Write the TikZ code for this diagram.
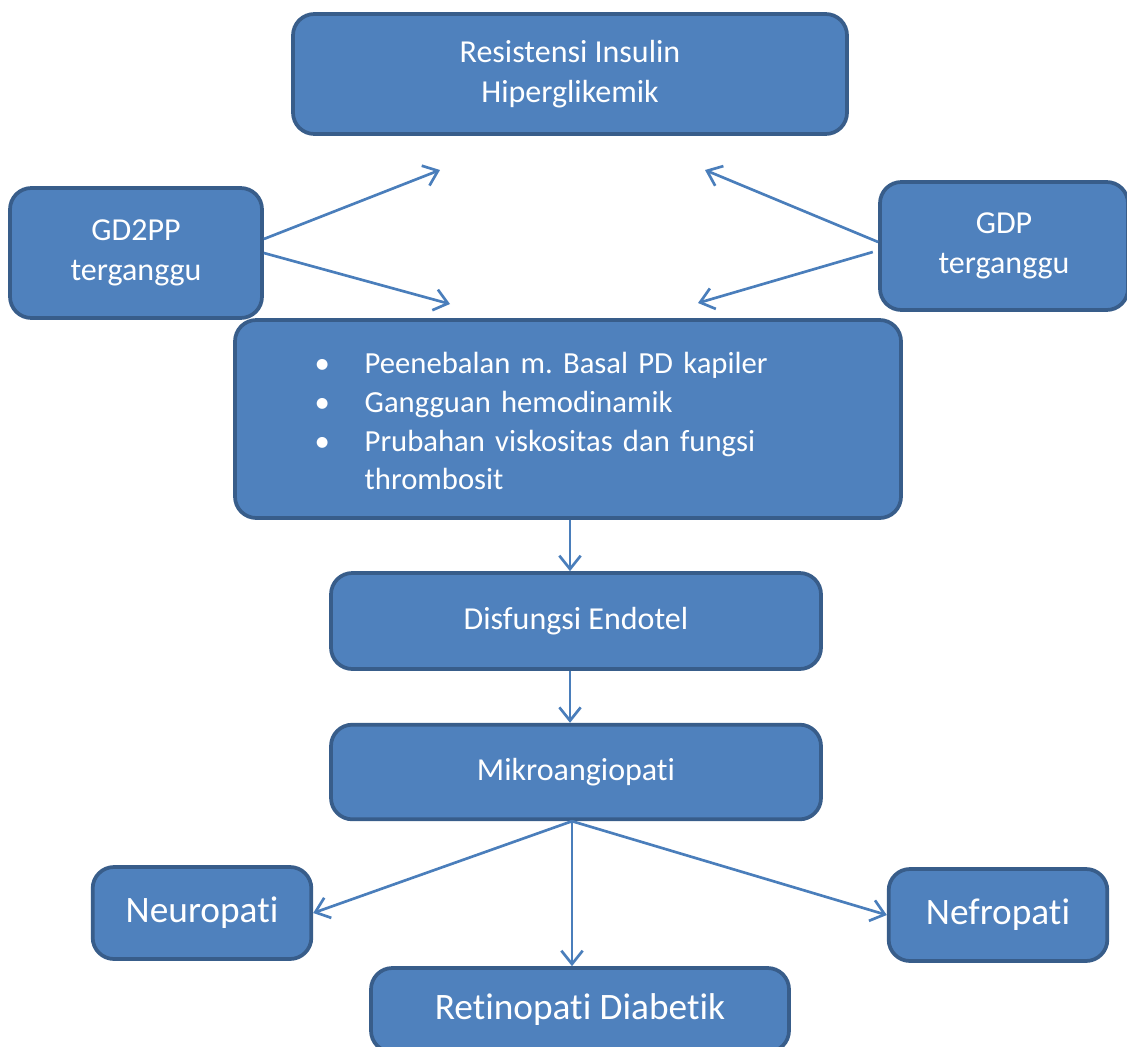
\documentclass[tikz,border=0pt]{standalone}
\usepackage{fontspec}
\setmainfont{Carlito}[Ligatures=NoCommon]
\usepackage{xcolor}
\usetikzlibrary{arrows.meta}
\definecolor{boxfill}{HTML}{4F81BD}
\definecolor{boxline}{HTML}{385D8A}
\definecolor{arrowblue}{HTML}{4A7EBB}
\frenchspacing
\tikzset{
  box/.style={draw=boxline, fill=boxfill, line width=2.8pt, rounded corners=16pt,
    text=white, align=center, inner sep=0pt,
    font=\fontsize{24}{30}\selectfont},
  bigbox/.style={box, font=\fontsize{28}{34}\selectfont},
  arrow/.style={draw=arrowblue, line width=2pt,
    -{Straight Barb[length=10pt,width=16pt]}}
}
\begin{document}
\begin{tikzpicture}[x=0.75pt,y=-0.75pt]
  \useasboundingbox (0,0) rectangle (1127,1046);
  \node[box, minimum width=415.5pt, minimum height=90pt] (resist) at (570,74) {Resistensi Insulin\\Hiperglikemik};
  \node[box, minimum width=189pt, minimum height=97.5pt] (gd2pp) at (136,253) {GD2PP\\terganggu};
  \node[box, minimum width=186pt, minimum height=96pt] (gdp) at (1004,246) {GDP\\terganggu};
  \node[box, minimum width=499.5pt, minimum height=148.5pt, text width=480pt, align=left,
        font=\fontsize{23}{29}\selectfont] (lesi) at (568,419)
    {\hspace*{50pt}\raisebox{-3.75pt}[\height][\depth]{\begin{tabular}{@{}p{37.5pt}@{}l@{}}
      \textbullet & Peenebalan m. Basal PD kapiler\\
      \textbullet & Gangguan hemodinamik\\
      \textbullet & Prubahan viskositas dan fungsi\\
                  & thrombosit
    \end{tabular}}};
  \node[box, minimum width=367.5pt, minimum height=72pt] (disf) at (576,621) {Disfungsi Endotel};
  \node[box, minimum width=367.5pt, minimum height=71pt] (mikro) at (576,772) {Mikroangiopati};
  \node[bigbox, minimum width=164pt, minimum height=69pt] (neuro) at (202,913) {Neuropati};
  \node[bigbox, minimum width=164pt, minimum height=69pt] (nefro) at (998,915) {Nefropati};
  \node[bigbox, minimum width=313.5pt, minimum height=63pt] (retino) at (580,1010) {Retinopati Diabetik};

  \coordinate (up1) at (440,170);
  \coordinate (dn1) at (450,304);
  \coordinate (up2) at (705,170);
  \coordinate (dn2) at (698,303);

  \draw[arrow] ([yshift=10.5pt]gd2pp.east) -- (up1);
  \draw[arrow] ([yshift=0pt]gd2pp.east) -- (dn1);
  \draw[arrow] ([yshift=3pt]gdp.west) -- (up2);
  \draw[arrow] ([xshift=-4pt,yshift=-4.5pt]gdp.west) -- (dn2);
  \draw[arrow] ([xshift=1.5pt]lesi.south) -- ([xshift=1.5pt]lesi.south |- disf.north);
  \draw[arrow] ([xshift=-4.5pt]disf.south) -- ([xshift=-4.5pt]mikro.north);
  \draw[arrow] ([xshift=-3pt]mikro.south) -- (neuro.east);
  \draw[arrow] ([xshift=-3pt]mikro.south) -- ([xshift=-6pt]retino.north);
  \draw[arrow] ([xshift=-3pt]mikro.south) -- (nefro.west);
\end{tikzpicture}
\end{document}
